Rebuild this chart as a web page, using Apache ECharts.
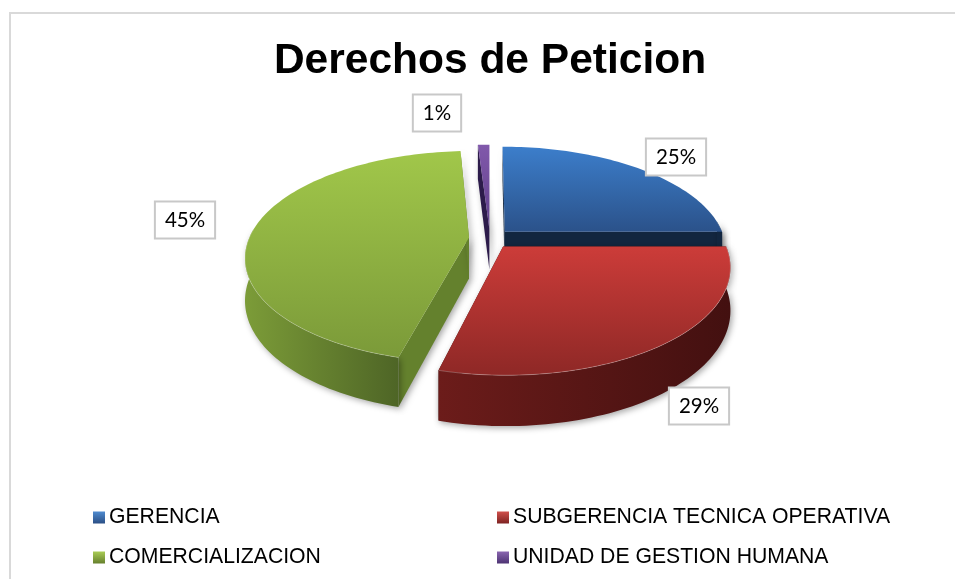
<!DOCTYPE html>
<html>
<head>
<meta charset="utf-8">
<style>
  html, body { margin: 0; padding: 0; background: #fff; }
  #main { width: 955px; height: 579px; }
</style>
<script src="https://cdn.jsdelivr.net/npm/echarts@6/dist/echarts.min.js"></script>
</head>
<body>
<div id="main"></div>
<script>
var categories = ["GERENCIA", "SUBGERENCIA TECNICA OPERATIVA", "COMERCIALIZACION", "UNIDAD DE GESTION HUMANA"];
var values = [25, 29, 45, 1];

// colores de cada rebanada
var topColors = [["#3c7ecb", "#2b528a"], ["#cc3c39", "#8e2826"], ["#a1c74a", "#7b9a39"], ["#8159ab", "#5f3f8a"]];
var wallColors = [["#12263f", "#12263f"], ["#6c1c1a", "#431010"], ["#7c9c38", "#4e6526"], ["#2c1b4a", "#2c1b4a"]];
var cutColors = ["#12263f", "#3f1010", "#64812d", "#2c1b4a"];
var legendColors = [["#4f8bd0", "#2b4f85"], ["#d0504c", "#7e2322"], ["#a9cc55", "#66802d"], ["#8a66b0", "#4d3373"]];

// posicion de las etiquetas y de la leyenda
var labelPos = [[676, 157], [699, 406], [185, 220], [437, 113]];
var legendPos = [[93, 507], [497, 507], [93, 547], [497, 547]];
var drawOrder = [2, 4, 3, 1];

// el "3D" es una proyeccion sencilla del disco
var cx = 490, cy = 238.5, R = 220, Ry = 102.5, persp = 0.18, depth = 41, explode = 0.096;

var total = values.reduce(function (a, b) { return a + b; }, 0);

function project(X, Z, low) {
  var s = 1 / (1 - persp * Z);
  return [cx + R * X * s, cy + (Ry * Z + (low ? depth : 0)) * s];
}

function grad(c, horizontal) {
  return {
    type: "linear", x: 0, y: 0, x2: horizontal ? 1 : 0, y2: horizontal ? 0 : 1,
    colorStops: [{ offset: 0, color: c[0] }, { offset: 1, color: c[1] }]
  };
}

function sliceShape(i, value) {
  var before = 0;
  for (var k = 0; k < i; k++) before += values[k];
  var a0 = before / total * Math.PI * 2;
  var a1 = (before + value) / total * Math.PI * 2;
  var mid = (a0 + a1) / 2;
  var ox = Math.sin(mid) * explode, oz = -Math.cos(mid) * explode;

  var steps = Math.max(4, Math.round((a1 - a0) * 40));
  var topArc = [], lowArc = [], visTop = [], visLow = [];
  for (var n = 0; n <= steps; n++) {
    var a = a0 + (a1 - a0) * n / steps;
    var X = ox + Math.sin(a), Z = oz - Math.cos(a);
    var pt = project(X, Z, false), pl = project(X, Z, true);
    topArc.push(pt);
    lowArc.push(pl);
    if (Z > oz - 0.1) { visTop.push(pt); visLow.push(pl); }
  }
  var apexT = project(ox, oz, false), apexL = project(ox, oz, true);
  var shadow = { shadowBlur: 6, shadowColor: "rgba(0,0,0,0.35)", shadowOffsetX: 2, shadowOffsetY: 2 };
  var kids = [];

  // paredes de los cortes
  [[topArc[0], lowArc[0]], [topArc[steps], lowArc[steps]]].forEach(function (e) {
    kids.push({
      type: "polygon",
      shape: { points: [apexT, e[0], e[1], apexL] },
      style: Object.assign({ fill: cutColors[i] }, shadow)
    });
  });
  // pared exterior
  if (visTop.length > 1) {
    kids.push({
      type: "polygon",
      shape: { points: visTop.concat(visLow.slice().reverse()) },
      style: Object.assign({ fill: grad(wallColors[i], true) }, shadow)
    });
  }
  // cara superior
  kids.push({
    type: "polygon",
    shape: { points: [apexT].concat(topArc) },
    style: { fill: grad(topColors[i], false) }
  });
  if (visTop.length > 1) {
    kids.push({
      type: "polyline",
      shape: { points: visTop },
      style: { fill: null, stroke: "rgba(255,255,255,0.25)", lineWidth: 1 }
    });
  }
  // etiqueta
  kids.push({
    type: "text",
    z2: 50,
    style: {
      text: Math.round(value / total * 100) + "%",
      x: labelPos[i][0], y: labelPos[i][1],
      align: "center", verticalAlign: "middle",
      font: "20.5px Lato", fill: "#000",
      backgroundColor: "#fff", borderColor: "#c8c8c8", borderWidth: 2,
      padding: [11, 9, 3, 9]
    }
  });
  return { type: "group", children: kids };
}

var chart = echarts.init(document.getElementById("main"));
chart.setOption({
  animation: false,
  backgroundColor: "#fff",
  title: {
    text: "Derechos de Peticion",
    left: 485, top: 35, textAlign: "center",
    textStyle: { fontFamily: "Liberation Sans", fontWeight: "bold", fontSize: 42.5, color: "#000" }
  },
  graphic: [{
    type: "rect", silent: true,
    shape: { x: 10, y: 13, width: 1000, height: 1000 },
    style: { fill: null, stroke: "#d9d9d9", lineWidth: 2 }
  }],
  legend: categories.map(function (name, i) {
    return {
      data: [name], left: legendPos[i][0], top: legendPos[i][1],
      icon: "rect", itemWidth: 12, itemHeight: 12, itemGap: 4, selectedMode: false,
      padding: 0,
      textStyle: { fontFamily: "Liberation Sans", fontSize: 21.2, color: "#000", padding: [3, 0, 0, -1] }
    };
  }),
  series: categories.map(function (name, i) {
    return {
      type: "custom",
      name: name,
      coordinateSystem: "none",
      z: drawOrder[i],
      itemStyle: { color: grad(legendColors[i], false) },
      data: [values[i]],
      renderItem: function (params, api) {
        return sliceShape(i, api.value(0));
      }
    };
  })
});
</script>
</body>
</html>
